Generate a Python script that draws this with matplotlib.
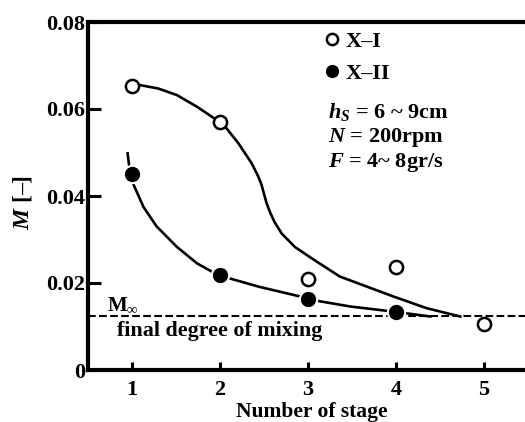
import matplotlib
matplotlib.use("Agg")
import matplotlib.pyplot as plt

plt.rcParams['font.family'] = ['Liberation Serif', 'DejaVu Serif']
plt.rcParams['font.weight'] = 'bold'
plt.rcParams['axes.labelweight'] = 'bold'
plt.rcParams['mathtext.fontset'] = 'custom'
plt.rcParams['mathtext.rm'] = 'Liberation Serif:bold'
plt.rcParams['mathtext.it'] = 'Liberation Serif:italic:bold'
plt.rcParams['mathtext.bf'] = 'Liberation Serif:bold'

# ---- data ----
stages = [1, 2, 3, 4, 5]
m_x1 = [0.0652, 0.0571, 0.0210, 0.0237, 0.0105]
stages_x2 = [1, 2, 3, 4]
m_x2 = [0.0450, 0.0218, 0.0163, 0.0134]
m_inf = 0.0123

# hand-drawn trend curves
curve1_x = [1.00, 1.09, 1.30, 1.51, 1.74, 1.99, 2.06, 2.21, 2.36, 2.43, 2.47, 2.50,
            2.53, 2.57, 2.62, 2.70, 2.85, 3.04, 3.36, 3.97, 4.35, 4.73]
curve1_y = [0.0653, 0.0655, 0.0647, 0.0632, 0.0605, 0.0571, 0.0559, 0.0521, 0.0475,
            0.0447, 0.0427, 0.0405, 0.0383, 0.0362, 0.0340, 0.0314, 0.0283, 0.0257,
            0.0215, 0.0169, 0.0142, 0.0123]
curve2_x = [0.95, 0.98, 1.02, 1.13, 1.28, 1.51, 1.74, 1.98, 2.45, 2.91, 2.99, 3.48,
            3.98, 4.39]
curve2_y = [0.0498, 0.0450, 0.0425, 0.0375, 0.0330, 0.0283, 0.0245, 0.0218, 0.0191,
            0.0169, 0.0163, 0.0146, 0.0134, 0.0123]

xticks = [1, 2, 3, 4, 5]
yticks = [0, 0.02, 0.04, 0.06, 0.08]
ytick_labels = ["0", "0.02", "0.04", "0.06", "0.08"]

fig = plt.figure(figsize=(5.25, 4.22), dpi=100)
ax = fig.add_axes([88/525, 52/422, 437/525, 348/422])
ax.set_xlim(0.5, 5.466)
ax.set_ylim(0, 0.08)

# curves
ax.plot(curve1_x, curve1_y, color='black', lw=1.9, zorder=2)
ax.plot(curve2_x, curve2_y, color='black', lw=1.9, zorder=2)
# final degree of mixing
ax.axhline(m_inf, color='black', lw=1.5, ls=(0, (3.7, 1.6)), zorder=1)

# points
h1, = ax.plot(stages, m_x1, ls='none', marker='o', ms=9.5, mfc='white', mec='black',
              mew=1.8, zorder=4, label='X–I')
ax.plot(stages_x2, m_x2, ls='none', marker='o', ms=13, mfc='white', mec='white', zorder=3)
h2, = ax.plot(stages_x2, m_x2, ls='none', marker='o', ms=10, mfc='black', mec='black',
              zorder=4, label='X–II')

leg = ax.legend(handles=[h1, h2], loc='upper left', bbox_to_anchor=(0.543, 0.973),
                frameon=False, fontsize=16, handlelength=0.6, handletextpad=0.3,
                labelspacing=0.5, markerscale=0.85, borderaxespad=0, borderpad=0)

ax.text(0.549, 0.741, r"$h_S$ = 6 ~ 9cm", transform=ax.transAxes, fontsize=16,
        ha='left', va='center')
ax.text(0.549, 0.667, r"$N$ = 200rpm", transform=ax.transAxes, fontsize=16,
        ha='left', va='center')
ax.text(0.549, 0.595, r"$F$ = 4~ 8gr/s", transform=ax.transAxes, fontsize=16,
        ha='left', va='center')

ax.text(0.043, 0.185, r"M$_\infty$", transform=ax.transAxes, fontsize=15,
        ha='left', va='center')
ax.text(0.066, 0.112, "final degree of mixing", transform=ax.transAxes, fontsize=15.8,
        ha='left', va='center')

# axes styling
for s in ['left', 'bottom', 'top']:
    ax.spines[s].set_linewidth(3)
ax.spines['right'].set_visible(False)
ax.set_xticks(xticks)
ax.set_xticklabels([str(t) for t in xticks])
ax.set_yticks(yticks)
ax.set_yticklabels(ytick_labels)
ax.tick_params(axis='y', direction='in', length=9, width=2.2, pad=2, labelsize=16)
ax.tick_params(axis='x', direction='in', length=6, width=2.2, pad=7, labelsize=16)

ax.set_xlabel("Number of stage", fontsize=15.5, fontweight='bold')
ax.xaxis.set_label_coords(0.5126, -0.093)
fig.text(22/525, 1 - 202/422, r"$M$ [–]", rotation=90, ha='center', va='center',
         fontsize=17)

fig.savefig("out.png", dpi=100)
